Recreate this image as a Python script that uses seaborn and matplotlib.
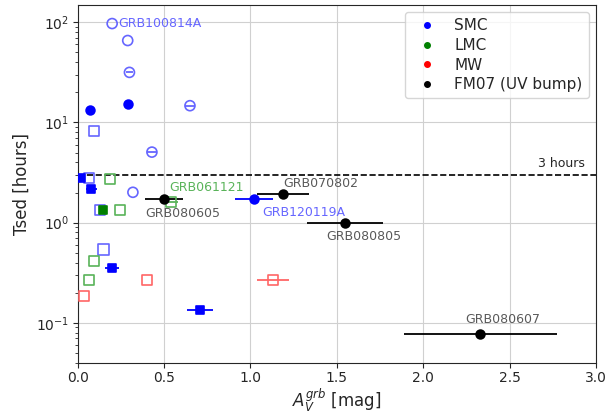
import matplotlib
matplotlib.use("Agg")
import matplotlib.pyplot as plt
from matplotlib.lines import Line2D
import pandas as pd
import numpy as np
import seaborn as sns

# SMC, filled circles
smc_fc_x = [0.07, 0.29, 1.02]
smc_fc_y = [13.2, 15.3, 1.72]
smc_fc_xerr = [0.0, 0.0, 0.11]
# SMC, open circles
smc_oc_x = [0.20, 0.29, 0.30, 0.65, 0.43, 0.32]
smc_oc_y = [97.0, 65.7, 31.6, 14.7, 5.06, 2.01]
smc_oc_xerr = [0.0, 0.0, 0.02, 0.03, 0.03, 0.0]
# SMC, filled squares
smc_fs_x = [0.02, 0.08, 0.20, 0.71]
smc_fs_y = [2.78, 2.17, 0.35, 0.134]
smc_fs_xerr = [0.0, 0.03, 0.04, 0.075]
# SMC, open squares
smc_os_x = [0.097, 0.064, 0.127, 0.15]
smc_os_y = [8.26, 2.78, 1.34, 0.54]
# LMC
lmc_fs_x = [0.147]
lmc_fs_y = [1.34]
lmc_fs_xerr = [0.02]
lmc_os_x = [0.19, 0.54, 0.247, 0.097, 0.064]
lmc_os_y = [2.70, 1.62, 1.34, 0.41, 0.27]
lmc_os_xerr = [0.0, 0.04, 0.0, 0.0, 0.0]
# MW
mw_os_x = [0.40, 0.035, 1.13]
mw_os_y = [0.27, 0.185, 0.27]
mw_os_xerr = [0.0, 0.0, 0.09]
# FM07 (UV bump)
fm_x = [0.50, 1.19, 1.545, 2.33]
fm_y = [1.71, 1.95, 1.0, 0.077]
fm_xerr = [0.11, 0.15, 0.22, 0.44]

labels = ["GRB100814A", "GRB061121", "GRB080605", "GRB120119A",
          "GRB070802", "GRB080805", "GRB080607"]
label_x = [0.235, 0.53, 0.39, 1.07, 1.19, 1.44, 2.24]
label_y = [97.0, 2.25, 1.24, 1.27, 2.45, 0.72, 0.107]

blue = "blue"
lblue = (0.4, 0.4, 1.0)
green = "green"
lgreen = (0.35, 0.7, 0.35)
lred = (1.0, 0.4, 0.4)
grey = (0.35, 0.35, 0.35)

sns.set_style("ticks")
plt.rcParams["font.family"] = ["DejaVu Sans"]
fig = plt.figure(figsize=(6.06, 4.17), dpi=100)
ax = fig.add_axes([0.128, 0.13, 0.856, 0.859])


def pts(x, y, marker, fc, ec, s=42, xerr=None, ecol=None):
    df = pd.DataFrame({"x": x, "y": y})
    if xerr is not None:
        ax.errorbar(df.x, df.y, xerr=xerr, fmt="none", ecolor=ecol, elinewidth=1.3, zorder=2)
    sns.scatterplot(data=df, x="x", y="y", marker=marker, s=s, ax=ax,
                    facecolors=fc, edgecolors=ec, linewidths=1.2, zorder=3)


pts(smc_oc_x, smc_oc_y, "o", "none", lblue, s=52, xerr=smc_oc_xerr, ecol=lblue)
pts(smc_os_x, smc_os_y, "s", "none", lblue, s=52)
pts(lmc_os_x, lmc_os_y, "s", "none", lgreen, s=52, xerr=lmc_os_xerr, ecol=lgreen)
pts(mw_os_x, mw_os_y, "s", "none", lred, s=52, xerr=mw_os_xerr, ecol=lred)
pts(smc_fc_x, smc_fc_y, "o", blue, blue, s=40, xerr=smc_fc_xerr, ecol=blue)
pts(smc_fs_x, smc_fs_y, "s", blue, blue, s=40, xerr=smc_fs_xerr, ecol=blue)
pts(lmc_fs_x, lmc_fs_y, "s", green, green, s=40, xerr=lmc_fs_xerr, ecol=green)
pts(fm_x, fm_y, "o", "black", "black", s=40, xerr=fm_xerr, ecol="black")

label_col = [lblue, lgreen, grey, lblue, grey, grey, grey]
for t, lx, ly, c in zip(labels, label_x, label_y, label_col):
    ax.text(lx, ly, t, color=c, fontsize=9, va="center", ha="left", zorder=4)

ax.axhline(3, color="black", ls="--", lw=1.2, zorder=2)
ax.text(2.935, 3.9, "3 hours", fontsize=9, ha="right", va="center")

ax.set_yscale("log")
ax.set_xlim(0, 3)
ax.set_ylim(0.04, 150)
ax.grid(True, which="major", color="#d0d0d0", lw=0.8)
ax.set_axisbelow(True)
ax.set_xlabel("$A_V^{grb}$ [mag]", fontsize=12, labelpad=1)
ax.set_ylabel("Tsed [hours]", fontsize=12)
ax.tick_params(labelsize=10, length=3.5, pad=2.5)
ax.tick_params(which="minor", length=2)

handles = [Line2D([], [], ls="none", marker="o", color=c, markersize=4)
           for c in ["blue", "green", "red", "black"]]
ax.legend(handles, ["SMC", "LMC", "MW", "FM07 (UV bump)"], loc="upper right",
          fontsize=11, labelspacing=0.3, frameon=True)

fig.savefig("out.png", dpi=100)
